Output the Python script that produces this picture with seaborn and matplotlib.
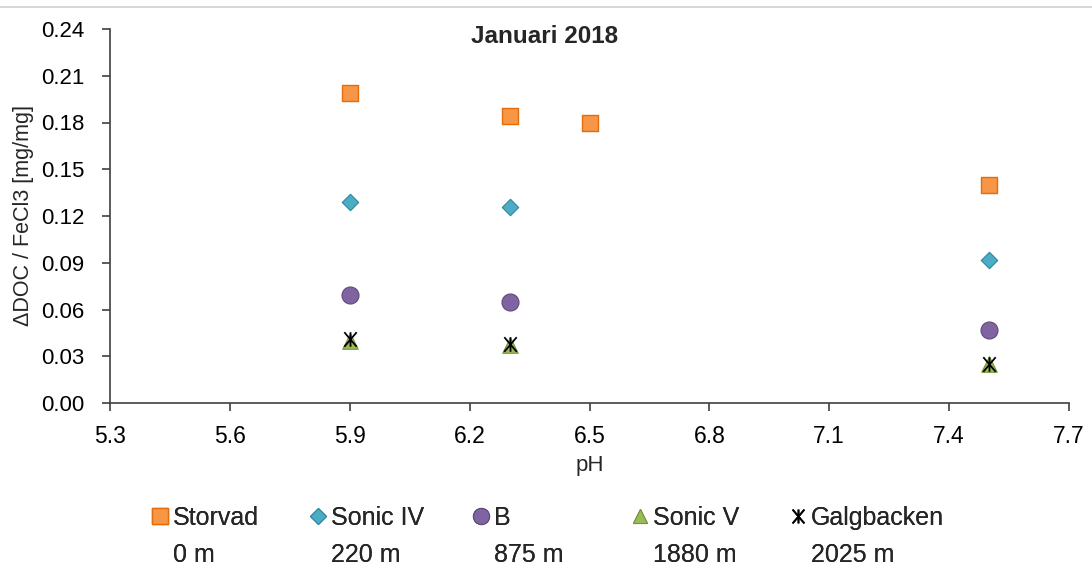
import matplotlib
matplotlib.use("Agg")
import matplotlib.pyplot as plt
from matplotlib.lines import Line2D
from matplotlib.path import Path
import seaborn as sns
import pandas as pd

# Measured data: pH and DOC removal per mg FeCl3
sites = ["Storvad", "Sonic IV", "B", "Sonic V", "Galgbacken"]
distances = ["0 m", "220 m", "875 m", "1880 m", "2025 m"]
storvad_ph = [5.9, 6.3, 6.5, 7.5]
storvad_val = [0.199, 0.184, 0.180, 0.140]
sonic4_ph = [5.9, 6.3, 7.5]
sonic4_val = [0.129, 0.126, 0.092]
b_ph = [5.9, 6.3, 7.5]
b_val = [0.069, 0.065, 0.047]
sonic5_ph = [5.9, 6.3, 7.5]
sonic5_val = [0.040, 0.037, 0.025]
galg_ph = [5.9, 6.3, 7.5]
galg_val = [0.041, 0.038, 0.025]
x_ticks = [5.3, 5.6, 5.9, 6.2, 6.5, 6.8, 7.1, 7.4, 7.7]
y_ticks = [0.00, 0.03, 0.06, 0.09, 0.12, 0.15, 0.18, 0.21, 0.24]

series_ph = [storvad_ph, sonic4_ph, b_ph, sonic5_ph, galg_ph]
series_val = [storvad_val, sonic4_val, b_val, sonic5_val, galg_val]

# star marker: an X crossed by a vertical stroke
star_path = Path(
    [(0, -1), (0, 1), (-0.85, -1), (0.85, 1), (-0.85, 1), (0.85, -1)],
    [Path.MOVETO, Path.LINETO, Path.MOVETO, Path.LINETO, Path.MOVETO, Path.LINETO],
)

styles = {
    "Storvad": dict(marker="s", s=135, color="#F79646", edgecolor="#E46C0A", linewidth=1.0),
    "Sonic IV": dict(marker="D", s=70, color="#4BACC6", edgecolor="#31859C", linewidth=0.8),
    "B": dict(marker="o", s=150, color="#8064A2", edgecolor="#5F4B7B", linewidth=0.8),
    "Sonic V": dict(marker="^", s=125, color="#9BBB59", edgecolor="#77933C", linewidth=0.8),
    "Galgbacken": dict(marker=star_path, s=110, color="black", edgecolor="black", linewidth=1.3),
}

frames = []
for name, ph, val in zip(sites, series_ph, series_val):
    frames.append(pd.DataFrame({"pH": ph, "value": val, "site": name}))
df = pd.concat(frames, ignore_index=True)

sns.set_theme(style="white")
plt.rcParams["font.family"] = ["Liberation Sans", "DejaVu Sans"]

fig = plt.figure(figsize=(10.92, 5.69), dpi=100)
ax = fig.add_axes([110 / 1092, 1 - 403 / 569, 959 / 1092, 374 / 569])

handles = []
for name in sites:
    st = styles[name]
    sub = df[df["site"] == name]
    sns.scatterplot(data=sub, x="pH", y="value", ax=ax, marker=st["marker"], s=st["s"],
                    color=st["color"], edgecolor=st["edgecolor"], linewidth=st["linewidth"],
                    legend=False, zorder=3, clip_on=False)
    ms = (st["s"] ** 0.5) * 0.95
    handles.append(Line2D([], [], linestyle="none", marker=st["marker"], markersize=ms,
                          markerfacecolor=st["color"], markeredgecolor=st["edgecolor"],
                          markeredgewidth=st["linewidth"]))

ax.set_xlim(5.3, 7.7)
ax.set_ylim(0, 0.24)
ax.set_xticks(x_ticks)
ax.set_xticklabels([f"{t:.1f}" for t in x_ticks])
ax.set_yticks(y_ticks)
ax.set_yticklabels([f"{t:.2f}" for t in y_ticks])
ax.tick_params(axis="both", colors="#404040", labelcolor="black",
               direction="out", length=5.5, width=1.2, bottom=True, left=True)
ax.tick_params(axis="x", labelsize=16.5, pad=10)
ax.tick_params(axis="y", labelsize=16, pad=13)
for side in ["top", "right"]:
    ax.spines[side].set_visible(False)
for side in ["left", "bottom"]:
    ax.spines[side].set_color("#404040")
    ax.spines[side].set_linewidth(1.2)

ax.set_xlabel("pH", fontsize=16)
ax.set_ylabel("ΔDOC / FeCl3 [mg/mg]", fontsize=15.5)
ax.xaxis.set_label_coords(0.5, -0.140)
ax.yaxis.set_label_coords(-0.079, 0.5)

ax.text(0.4536, 0.979, "Januari 2018", transform=ax.transAxes, ha="center", va="center",
        fontsize=17.5, fontweight="bold")

# Legend: one block per site, name on the first row and distance below
blank = Line2D([], [], linestyle="none", marker=None)
legend_x = [150, 308, 471, 630, 788]
for h, name, dist, lx in zip(handles, sites, distances, legend_x):
    leg = fig.legend([h, blank], [name, dist], loc="upper left",
                     bbox_to_anchor=(lx / 1092, 1 - 506 / 569), frameon=False,
                     fontsize=18, handlelength=0.8, handletextpad=0.12,
                     borderpad=0, borderaxespad=0, labelspacing=0.5)
    fig.add_artist(leg)

# thin rule along the top edge
fig.add_artist(Line2D([0, 1], [1 - 7 / 569, 1 - 7 / 569], transform=fig.transFigure,
                      color="#d0d0d0", linewidth=1.2))

fig.savefig("out.png", dpi=100)
